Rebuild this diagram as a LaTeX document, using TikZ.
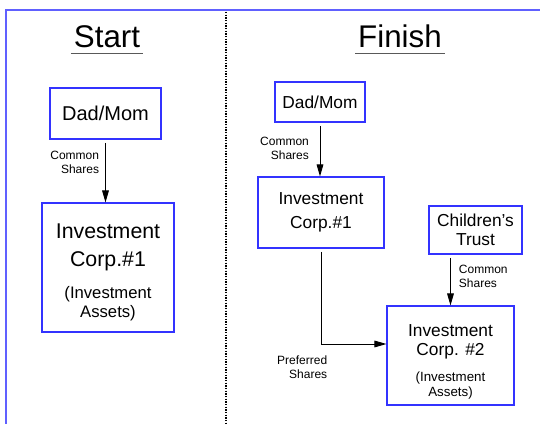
\documentclass[tikz,border=0pt]{standalone}
\usepackage{fontspec}
\setmainfont{Liberation Sans}
\usetikzlibrary{positioning}
\usetikzlibrary{arrows.meta}
\usetikzlibrary{calc}
\definecolor{boxblue}{RGB}{51,51,255}
\definecolor{frameblue}{RGB}{96,96,255}

\begin{document}
\begin{tikzpicture}[x=0.75pt,y=-0.75pt,
  box/.style={draw=boxblue, line width=0.8pt, align=center, inner sep=0pt},
  conn/.style={-{Triangle[length=9pt,width=5pt]}, line width=0.7pt, shorten <=2.5pt},
  lbl/.style={font=\fontsize{9}{10.5}\selectfont, inner sep=0pt},
  title/.style={font=\fontsize{23.5}{28}\selectfont, inner xsep=2pt, inner ysep=3.75pt, anchor=base},
  uline/.style={line width=1.1pt, black!65}]
\useasboundingbox (0,0) rectangle (540,424);
% draw frame and divider
\draw[frameblue, line width=1pt] (6,424) -- (6,10) -- (540,10);
\draw[densely dotted, line width=1pt] (226,12) -- (226,424);
% titles
\node[title] (start) at (107,48) {Start};
\node[title] (finish) at (400,48) {Finish};
\draw[uline] (start.south west) -- (start.south east);
\draw[uline] (finish.south west) -- (finish.south east);
% start side
\node[box, minimum width=83.25pt, minimum height=38.25pt, font=\fontsize{15}{18}\selectfont] (dadA) at (105.5,113.5) {Dad/Mom};
\node[box, minimum width=99pt, minimum height=96.75pt, font=\fontsize{16}{21}\selectfont] (invA) at (108,267.5)
  {\rule{0pt}{18.3pt}Investment\\Corp.\#1\\[2.5pt]\fontsize{12.5}{14}\selectfont (Investment\\[-6.75pt]\fontsize{12.5}{14}\selectfont Assets)};
\draw[conn] (dadA.south) -- (dadA.south |- invA.north)
  node[lbl, pos=0.37, left=4.5pt, align=right] {Common\\Shares};
% finish side
\node[box, minimum width=67.5pt, minimum height=30pt, font=\fontsize{13}{16}\selectfont] (dadB) at (320,102) {Dad/Mom};
\node[box, minimum width=94.5pt, minimum height=53.25pt, font=\fontsize{13}{18}\selectfont] (invB) at (321,212.5) {Investment\\Corp.\#1};
\node[box, minimum width=69.75pt, minimum height=36pt, font=\fontsize{13}{14.25}\selectfont] (trust) at (475.5,230) {Children's\\Trust};
\node[box, minimum width=95.25pt, minimum height=74.25pt, font=\fontsize{13}{14.25}\selectfont] (invC) at (450.5,355.5)
  {\rule{0pt}{18.3pt}Investment\\Corp. \#2\\[5.6pt]\fontsize{10}{11}\selectfont (Investment\\[-3pt]\fontsize{10}{11}\selectfont Assets)};
\draw[conn] (dadB.south) -- (dadB.south |- invB.north)
  node[lbl, pos=0.47, left=8pt, align=right] {Common\\Shares};
\draw[conn] (invC.north |- trust.south) -- (invC.north)
  node[lbl, pos=0.43, right=6pt, align=left] {Common\\Shares};
\draw[conn] (invB.south) |- ($(invC.north west)!0.385!(invC.south west)$);
\node[lbl, align=right, anchor=east] (pref) at (327.5,367.5) {Preferred\\Shares};
\end{tikzpicture}
\end{document}
